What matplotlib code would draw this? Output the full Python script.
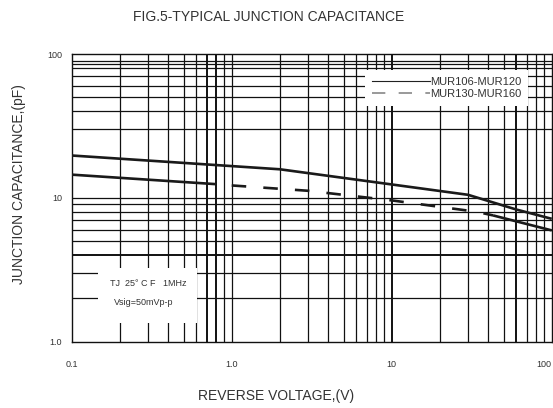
import matplotlib
matplotlib.use('Agg')
import matplotlib.pyplot as plt
from matplotlib.patches import Rectangle
from matplotlib.lines import Line2D

plt.rcParams['font.family'] = ['Liberation Sans', 'DejaVu Sans']

# data
upper_v = [0.1, 2, 30, 60, 100]
upper_c = [19.7, 15.8, 10.5, 8.3, 7.15]

lower_left_v = [0.1, 0.8]
lower_left_c = [14.5, 12.45]
lower_dash_v = [1, 3, 10, 34, 43]
lower_dash_c = [12.2, 11.2, 9.6, 8.0, 7.55]
lower_right_v = [43, 100]
lower_right_c = [7.55, 5.94]

grid_x = [0.2, 0.3, 0.4, 0.5, 0.6, 0.7, 0.8, 0.9, 1, 2, 3, 4, 5, 6, 7, 8, 9, 10,
          20, 30, 40, 50, 60, 70, 80, 90]
grid_y = [2, 3, 4, 5, 6, 7, 8, 9, 10, 30, 40, 50, 60, 70, 80, 85, 90]
thick_x = [0.7, 0.8, 10, 60]
thick_y = [4]

xticks = [0.1, 1, 10, 100]
xlabels = ['0.1', '1.0', '10', '100']
yticks = [1, 10, 100]
ylabels = ['1.0', '10', '100']

fig = plt.figure(figsize=(5.53, 4.08), dpi=100)
ax = fig.add_axes([0.1297, 0.1625, 0.868, 0.7051])
ax.set_xscale('log')
ax.set_yscale('log')
ax.set_xlim(0.1, 100)
ax.set_ylim(1, 100)

# hand drawn style grid
for v in grid_x:
    ax.axvline(v, color='#111111', lw=1.4 if v in thick_x else 0.9, zorder=1)
for c in grid_y:
    ax.axhline(c, color='#111111', lw=1.4 if c in thick_y else 0.9, zorder=1)

# curves
ax.plot(upper_v, upper_c, color='#1a1a1a', lw=1.9, zorder=3, solid_capstyle='butt')
ax.plot(lower_left_v, lower_left_c, color='#1a1a1a', lw=1.9, zorder=3, solid_capstyle='butt')
ax.plot(lower_dash_v, lower_dash_c, color='#1a1a1a', lw=1.9, zorder=3,
        dashes=(5.5, 6.5), dash_capstyle='butt')
ax.plot(lower_right_v, lower_right_c, color='#1a1a1a', lw=1.9, zorder=3, solid_capstyle='butt')

# condition box
ax.add_patch(Rectangle((0.055, 0.066), 0.206, 0.191, transform=ax.transAxes,
                       facecolor='white', edgecolor='none', zorder=2))
ax.text(0.159, 0.201, 'TJ  25° C F   1MHz', transform=ax.transAxes, fontsize=6.5,
        ha='center', va='center', color='#333333', zorder=4)
ax.text(0.149, 0.135, 'Vsig=50mVp-p', transform=ax.transAxes, fontsize=6.5,
        ha='center', va='center', color='#333333', zorder=4)

handles = [Line2D([], [], color='#222222', lw=0.8),
           Line2D([], [], color='#888888', lw=1.2, dashes=(8, 8))]
leg = ax.legend(handles, ['MUR106-MUR120', 'MUR130-MUR160'], loc='upper left',
                bbox_to_anchor=(0.612, 0.945), fontsize=8, frameon=True,
                fancybox=False, borderaxespad=0, borderpad=0.6,
                handlelength=5.2, handletextpad=0.05, labelspacing=0.25)
leg.get_frame().set_facecolor('white')
leg.get_frame().set_edgecolor('none')
leg.get_frame().set_alpha(1)
leg.set_zorder(5)
for t in leg.get_texts():
    t.set_color('#333333')

ax.set_xticks(xticks, xlabels)
ax.set_yticks(yticks, ylabels)
ax.minorticks_off()
ax.tick_params(which='both', length=0, labelsize=6.5, colors='#333333')
ax.tick_params(axis='x', pad=13)
ax.tick_params(axis='y', pad=7)
# the last x label sits left of its line so it fits in the picture
ax.get_xticklabels()[-1].set_horizontalalignment('right')
for s in ax.spines.values():
    s.set_color('#111111')
    s.set_linewidth(1.0)

fig.text(268.5 / 553, 1 - 17 / 408, 'FIG.5-TYPICAL JUNCTION CAPACITANCE',
         ha='center', va='center', fontsize=10, color='#333333')
fig.text(276 / 553, 1 - 396 / 408, 'REVERSE VOLTAGE,(V)',
         ha='center', va='center', fontsize=10, color='#333333')
fig.text(19 / 553, 1 - 184 / 408, 'JUNCTION CAPACITANCE,(pF)', rotation=90,
         ha='center', va='center', fontsize=10, color='#333333')

fig.savefig('out.png', dpi=100)
